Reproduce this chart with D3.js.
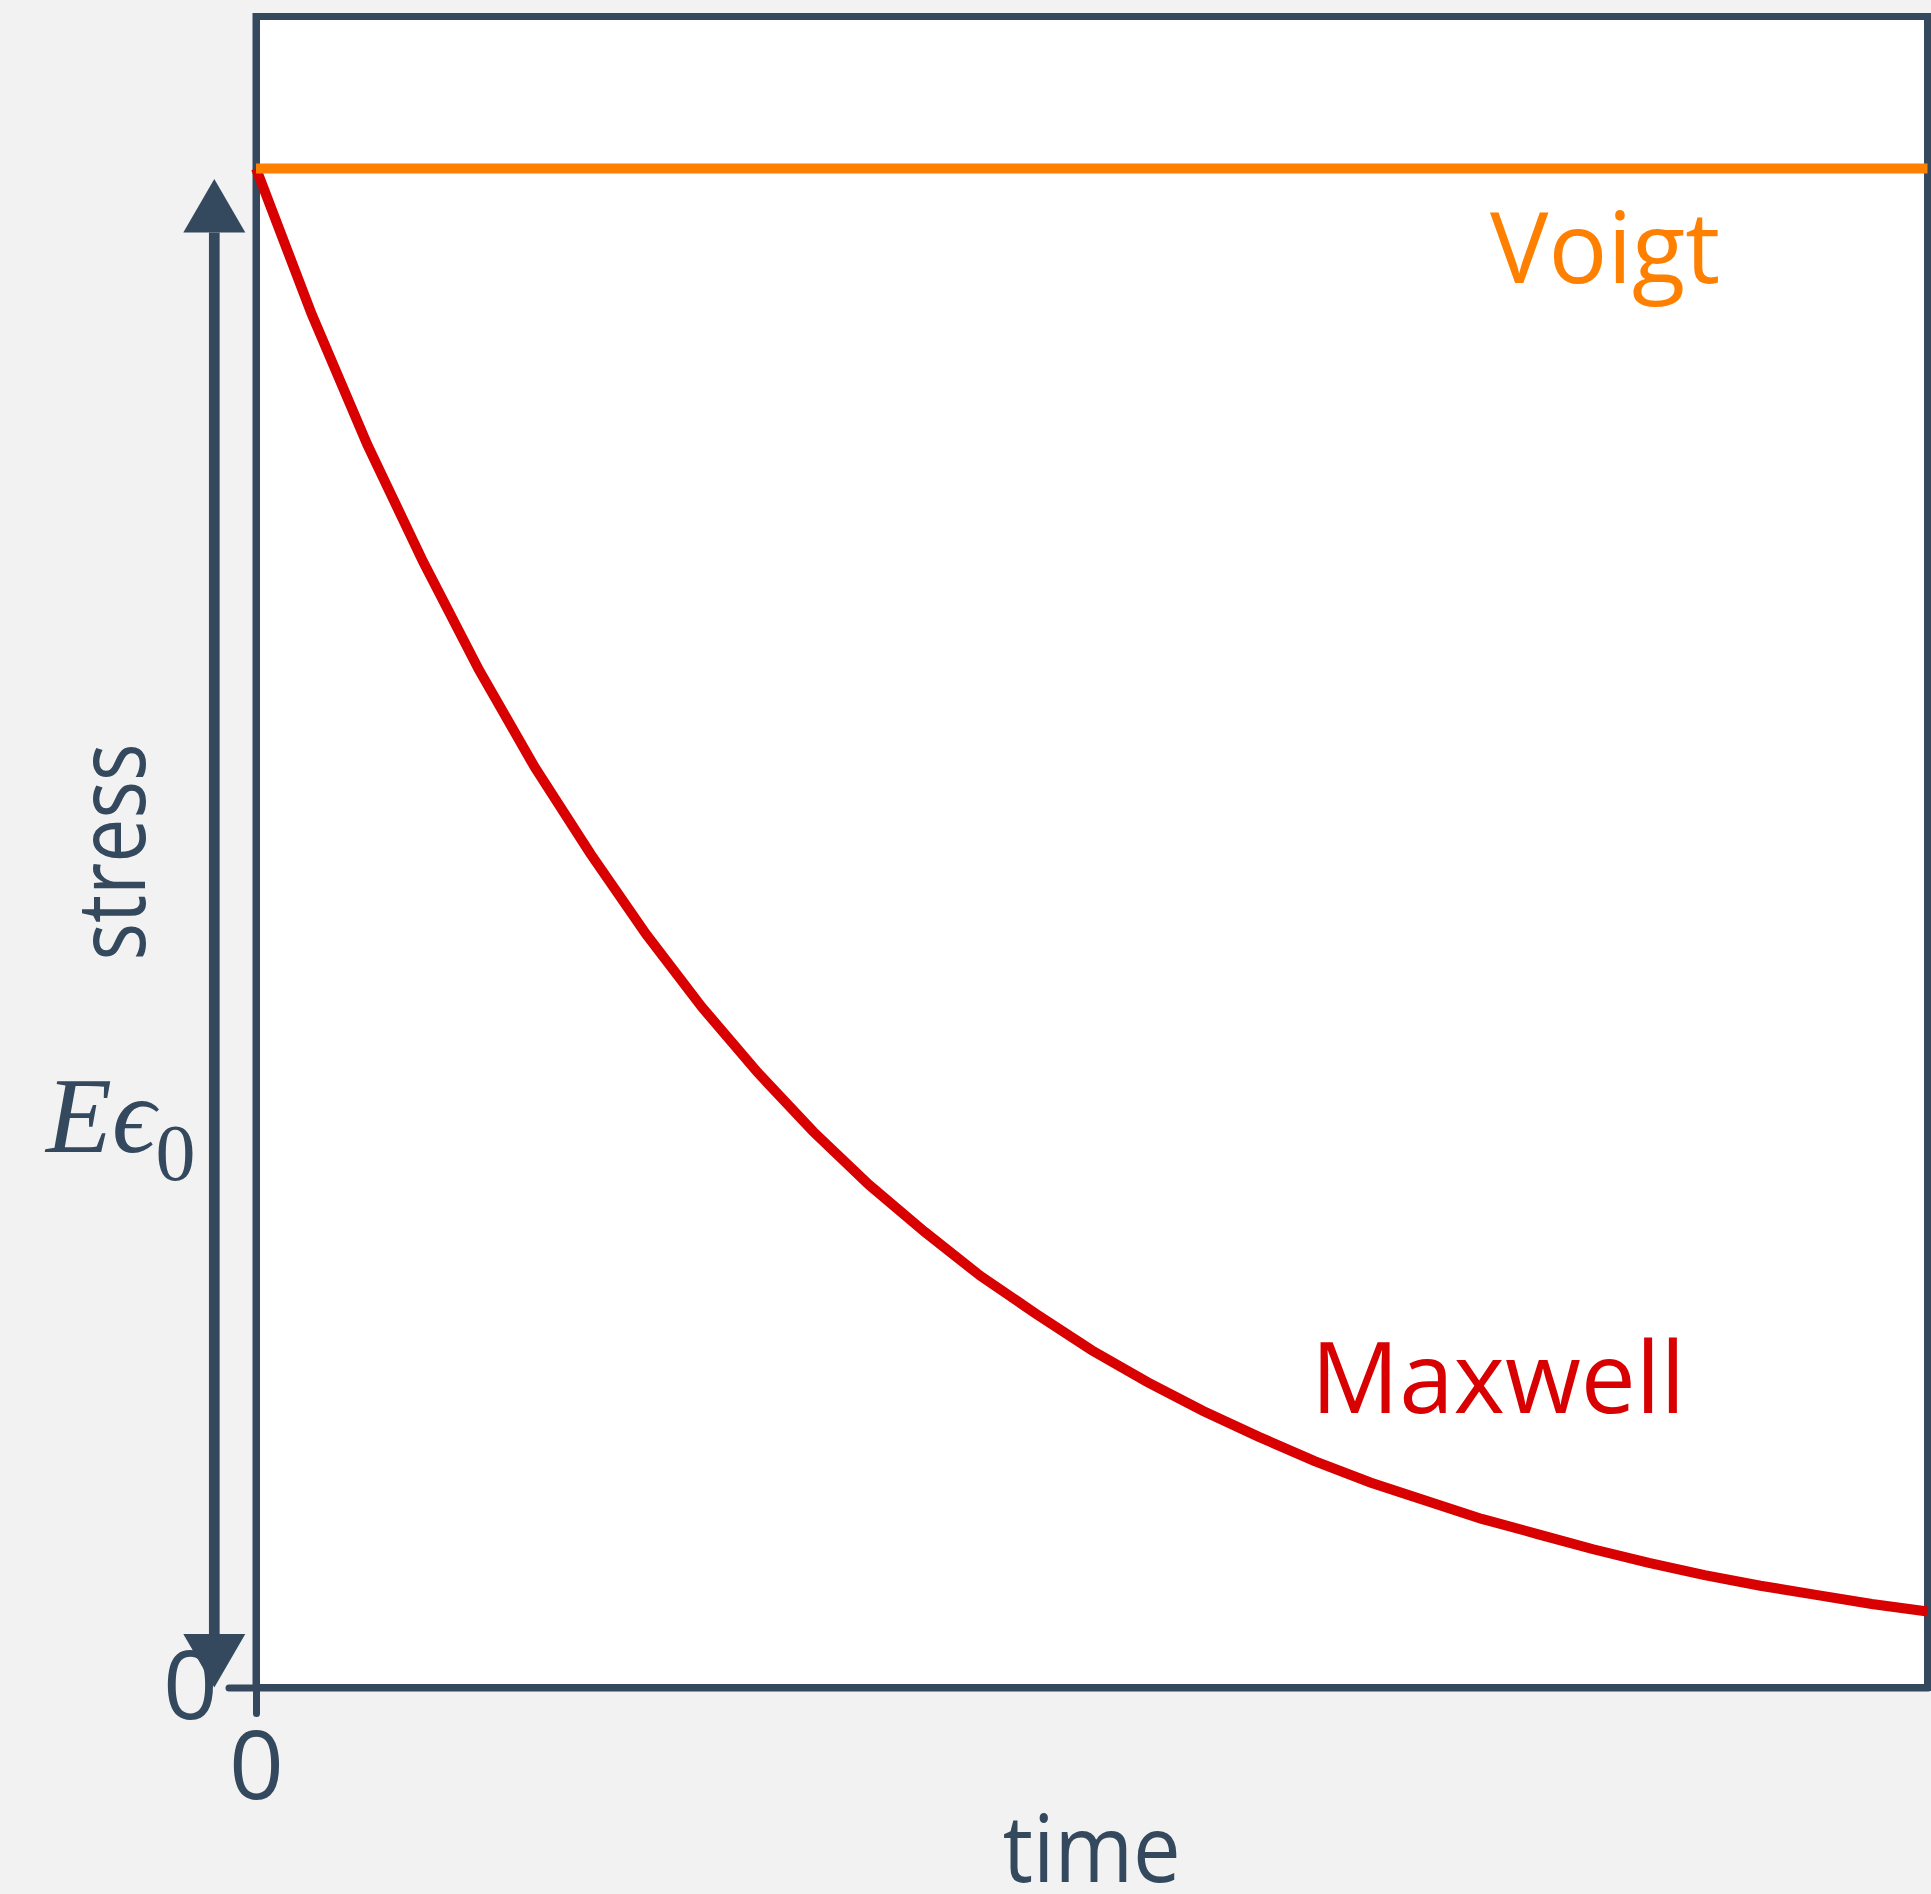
<!DOCTYPE html>
<html>
<head>
<meta charset="utf-8">
<script src="https://cdn.jsdelivr.net/npm/d3@7"></script>
<style>
  html, body { margin: 0; padding: 0; background: #f2f2f2; }
  svg { display: block; }
</style>
</head>
<body>
<script>
// ---- data ----
const times = [0.0, 0.1, 0.2, 0.3, 0.4, 0.5, 0.6, 0.7, 0.8, 0.9, 1.0,
               1.1, 1.2, 1.3, 1.4, 1.5, 1.6, 1.7, 1.8, 1.9, 2.0,
               2.1, 2.2, 2.3, 2.4, 2.5, 2.6, 2.7, 2.8, 2.9, 3.0];
const maxwell = [1.000, 0.904, 0.818, 0.741, 0.670, 0.606, 0.549, 0.496, 0.448, 0.405, 0.366,
                 0.331, 0.300, 0.271, 0.246, 0.222, 0.201, 0.182, 0.165, 0.149, 0.135,
                 0.123, 0.111, 0.101, 0.091, 0.082, 0.074, 0.067, 0.061, 0.055, 0.050];
const voigtTimes = [0.0, 3.0];
const voigt = [1.0, 1.0];
const xTicks = [0];
const yTicks = [0];
const seriesNames = ["Voigt", "Maxwell"];

(function () {
// ---- layout ----
const W = 1931, H = 1894;
const dark = "#34495e", orange = "#ff8000", red = "#d80000";
const pLeft = 256, pRight = 1927.5, pTop = 16.5, pBottom = 1687.5;

const svg = d3.select("body").append("svg").attr("width", W).attr("height", H);
svg.append("rect").attr("width", W).attr("height", H).attr("fill", "#f2f2f2");

const x = d3.scaleLinear().domain([0, 3]).range([pLeft, pRight]);
const y = d3.scaleLinear().domain([0, 1.1]).range([pBottom, pTop]);

// plot box
svg.append("rect")
  .attr("x", pLeft).attr("y", pTop)
  .attr("width", pRight - pLeft).attr("height", pBottom - pTop)
  .attr("fill", "#ffffff").attr("stroke", dark).attr("stroke-width", 7);

// axes
const fontAxis = "'Open Sans', sans-serif";
const xAxis = svg.append("g").attr("transform", `translate(0,${pBottom})`)
  .call(d3.axisBottom(x).tickValues(xTicks).tickFormat(d3.format("d")).tickSize(26).tickPadding(17).tickSizeOuter(0));
const yAxis = svg.append("g").attr("transform", `translate(${pLeft},0)`)
  .call(d3.axisLeft(y).tickValues(yTicks).tickFormat(d3.format("d")).tickSize(27).tickPadding(11).tickSizeOuter(0));
[xAxis, yAxis].forEach(g => {
  g.select(".domain").attr("stroke", dark).attr("stroke-width", 7).attr("stroke-linecap", "round");
  g.selectAll(".tick line").attr("stroke", dark).attr("stroke-width", 7).attr("stroke-linecap", "round");
  g.selectAll(".tick text").attr("fill", dark).attr("font-family", fontAxis).attr("font-size", 96);
});

// curves
const lineGen = d3.line().x(d => x(d[0])).y(d => y(d[1]));
svg.append("path")
  .datum(times.map((t, i) => [t, maxwell[i]]))
  .attr("d", lineGen).attr("fill", "none")
  .attr("stroke", red).attr("stroke-width", 10).attr("stroke-linejoin", "miter");
svg.append("path")
  .datum(voigtTimes.map((t, i) => [t, voigt[i]]))
  .attr("d", lineGen).attr("fill", "none")
  .attr("stroke", orange).attr("stroke-width", 10);

// series labels
svg.append("text").text(seriesNames[0])
  .attr("x", 1490).attr("y", 283)
  .attr("fill", orange).attr("font-family", fontAxis).attr("font-size", 98);
svg.append("text").text(seriesNames[1])
  .attr("x", 1311).attr("y", 1413)
  .attr("fill", red).attr("font-family", fontAxis).attr("font-size", 98);

// double-headed arrow for stress axis
const ax = 214.3;
const tipTop = 179, baseTop = 232.5, tipBot = y(0), baseBot = 1634, halfW = 31;
svg.append("line").attr("x1", ax).attr("x2", ax).attr("y1", baseTop).attr("y2", baseBot)
  .attr("stroke", dark).attr("stroke-width", 10.7);
const pT = d3.path();
pT.moveTo(ax, tipTop); pT.lineTo(ax + halfW, baseTop); pT.lineTo(ax - halfW, baseTop); pT.closePath();
svg.append("path").attr("d", pT.toString()).attr("fill", dark);
const pB = d3.path();
pB.moveTo(ax, tipBot); pB.lineTo(ax + halfW, baseBot); pB.lineTo(ax - halfW, baseBot); pB.closePath();
svg.append("path").attr("d", pB.toString()).attr("fill", dark);

// axis titles
svg.append("text").text("time")
  .attr("x", (pLeft + pRight) / 2).attr("y", 1882)
  .attr("text-anchor", "middle")
  .attr("textLength", 178).attr("lengthAdjust", "spacingAndGlyphs")
  .attr("fill", dark).attr("font-family", fontAxis).attr("font-size", 94);
svg.append("text").text("stress")
  .attr("transform", `translate(145,${(pTop + pBottom) / 2}) rotate(-90)`)
  .attr("text-anchor", "middle")
  .attr("textLength", 217).attr("lengthAdjust", "spacingAndGlyphs")
  .attr("fill", dark).attr("font-family", fontAxis).attr("font-size", 95);

// E epsilon_0 label
const eLab = svg.append("text")
  .attr("x", 46).attr("y", 1152)
  .attr("fill", dark).attr("font-family", "'Liberation Serif', 'DejaVu Serif', serif").attr("font-size", 108);
eLab.append("tspan").attr("font-style", "italic").text("E\u03F5");
eLab.append("tspan").attr("font-style", "normal").attr("font-size", 80).attr("dy", 28).text("0");
})();
</script>
</body>
</html>
